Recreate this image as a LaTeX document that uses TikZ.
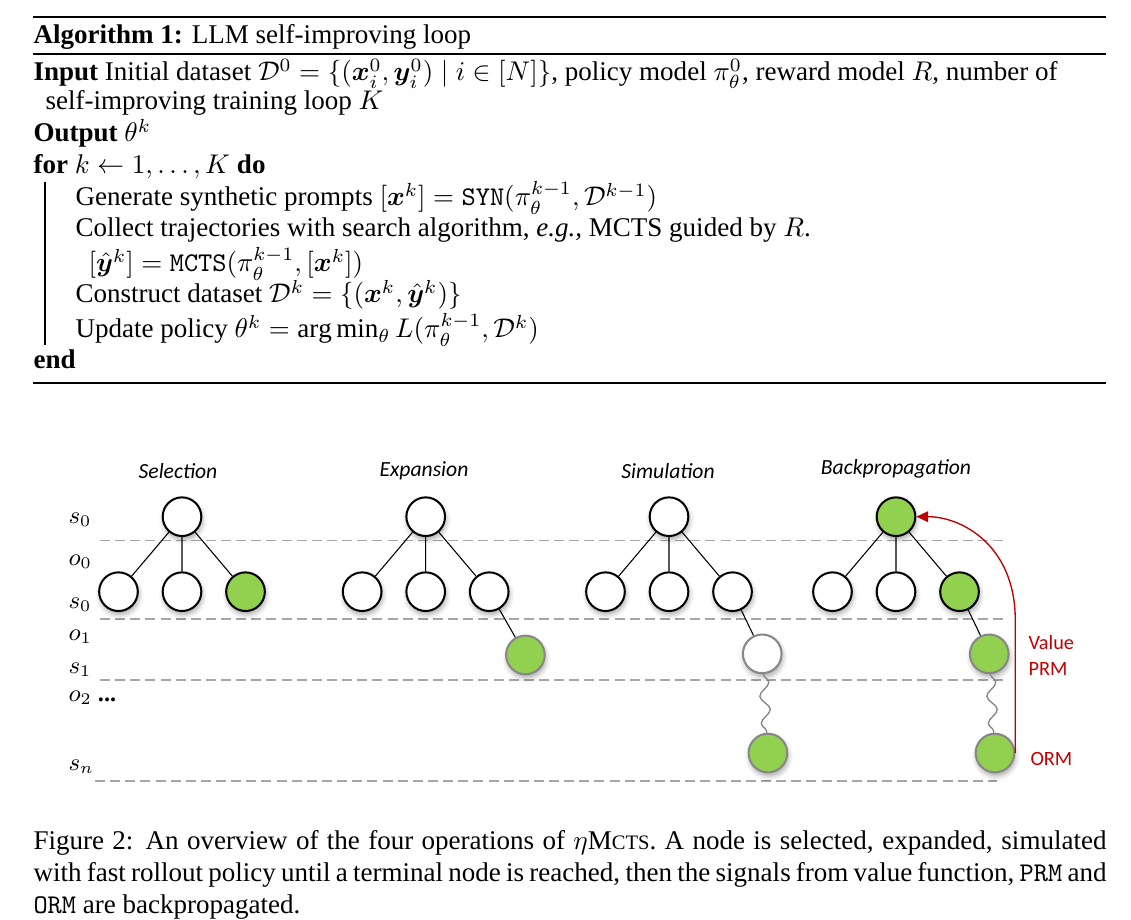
\documentclass[tikz,border=0pt]{standalone}
\usepackage{amsmath,amsfonts,bm}
\usepackage{fontspec}
\setmainfont{Liberation Serif}
\newfontfamily\figfont{Carlito}
\usepackage{tikz}
\usetikzlibrary{positioning,shadows.blur,decorations.pathmorphing,arrows.meta}
\definecolor{leafgreen}{HTML}{92D050}
\definecolor{rimgrey}{HTML}{878787}
\definecolor{guidegrey}{HTML}{A6A6A6}
\definecolor{signalred}{HTML}{C00000}

\begin{document}
\begin{tikzpicture}[x=0.37pt,y=-0.37pt,on grid]
        \tikzstyle{openstate} = [circle, draw=black, line width=0.75pt, fill=white, minimum size=14.3pt, inner sep=0pt, blur shadow={shadow xshift=0.4pt, shadow yshift=-1.3pt, shadow blur radius=1.8pt, shadow opacity=35}]
        \tikzstyle{greenstate} = [openstate, fill=leafgreen]
        \tikzstyle{newstate} = [openstate, draw=rimgrey]
        \tikzstyle{newgreen} = [newstate, fill=leafgreen]
        \tikzstyle{treeedge} = [line width=0.4pt]
        \tikzstyle{rollout} = [rimgrey, line width=0.5pt, decorate, decoration={snake, amplitude=1.8pt, segment length=10pt}]
        \tikzstyle{guide} = [guidegrey, line width=0.45pt, dash pattern=on 3.7pt off 1.9pt]
        \tikzstyle{backarrow} = [signalred, line width=0.5pt, -{Triangle[length=4.4pt,width=4pt]}]
        \tikzstyle{phasetitle} = [inner sep=0pt, font=\figfont\itshape\fontsize{8}{9.6}\selectfont]
        \tikzstyle{depthlbl} = [anchor=west, inner sep=0pt, font=\fontsize{9}{10}\selectfont]
        \tikzstyle{signallbl} = [signalred, anchor=west, align=left, inner sep=0pt, font=\figfont\fontsize{7.5}{9.3}\selectfont]
        \tikzstyle{algline} = [anchor=base west, inner sep=0pt]
        \tikzstyle{algrule} = [line width=0.75pt]

        \useasboundingbox (0,0) rectangle (1131,920);

        % algorithm box
        \draw [algrule] (33,17) -- (1106,17);
        \draw [algrule] (33,54) -- (1106,54);
        \draw [algrule] (33,383) -- (1106,383);
        \node (algtitle) [algline] at (33,44) {\textbf{Algorithm 1:} LLM self-improving loop};
        \node (alginput) [algline] at (33,81) {\textbf{Input} Initial dataset $\mathcal{D}^0=\{(\bm{x}_i^0,\bm{y}_i^0)\mid i\in[N]\}$, policy model $\pi_\theta^0$, reward model $R$, number of};
        \node (alginput2) [algline] at (45,110) {self-improving training loop $K$};
        \node (algoutput) [algline] at (33,142) {\textbf{Output} $\theta^k$};
        \node (algfor) [algline] at (33,174) {\textbf{for} $k\leftarrow 1,\dots,K$ \textbf{do}};
        \node (alggen) [algline] at (75,206) {Generate synthetic prompts $[\bm{x}^k]=\texttt{SYN}(\pi_\theta^{k-1},\mathcal{D}^{k-1})$};
        \node (algcollect) [algline] at (75,237) {Collect trajectories with search algorithm, \textit{e.g.,} MCTS guided by $R$.};
        \node (algmcts) [algline] at (88,272) {$[\hat{\bm{y}}^k]=\texttt{MCTS}(\pi_\theta^{k-1},[\bm{x}^k])$};
        \node (algdata) [algline] at (75,303) {Construct dataset $\mathcal{D}^k=\{(\bm{x}^k,\hat{\bm{y}}^k)\}$};
        \node (algupdate) [algline] at (75,338) {Update policy $\theta^k=\arg\min_\theta L(\pi_\theta^{k-1},\mathcal{D}^k)$};
        \node (algend) [algline] at (33,369) {\textbf{end}};
        \draw [line width=0.4pt] (45,182) -- (45,345);

        % depth guides
        \draw [guide] (100,540.5) -- (1003,540.5);
        \draw [guide] (100,619) -- (1003,619);
        \draw [guide] (100,680) -- (1003,680);
        \draw [guide] (95,781) -- (997,781);
        \node (lbls0) [depthlbl] at (68,520) {$s_0$};
        \node (lblo0) [depthlbl] at (68,562) {$o_0$};
        \node (lbls0b) [depthlbl] at (68,605) {$s_0$};
        \node (lblo1) [depthlbl] at (68,637) {$o_1$};
        \node (lbls1) [depthlbl] at (68,670) {$s_1$};
        \node (lblo2) [depthlbl] at (68,698) {$o_2$ \textbf{...}};
        \node (lblsn) [depthlbl] at (68,767) {$s_n$};

        % phase titles
        \node (selttl) [phasetitle] at (178,471) {Selection};
        \node (expttl) [phasetitle] at (424,471) {Expansion};
        \node (simttl) [phasetitle] at (668,471) {Simulation};
        \node (bpttl) [phasetitle] at (896,469) {Backpropagation};

        % selection
        \node (sel0) [openstate] at (182,516.7) {};
        \node (sel1) [openstate, below left=27.75pt and 23.5pt of sel0] {};
        \node (sel2) [openstate, below=27.75pt of sel0] {};
        \node (sel3) [greenstate, below right=27.75pt and 23.5pt of sel0] {};
        \draw [treeedge] (sel0) -- (sel1) (sel0) -- (sel2) (sel0) -- (sel3);

        % expansion
        \node (exp0) [openstate] at (425.7,516.7) {};
        \node (exp1) [openstate, below left=27.75pt and 23.5pt of exp0] {};
        \node (exp2) [openstate, below=27.75pt of exp0] {};
        \node (exp3) [openstate, below right=27.75pt and 23.5pt of exp0] {};
        \node (exp4) [newgreen, below right=23.4pt and 13.4pt of exp3] {};
        \draw [treeedge] (exp0) -- (exp1) (exp0) -- (exp2) (exp0) -- (exp3) (exp3) -- (exp4);

        % simulation
        \node (sim0) [openstate] at (669,516.7) {};
        \node (sim1) [openstate, below left=27.75pt and 23.5pt of sim0] {};
        \node (sim2) [openstate, below=27.75pt of sim0] {};
        \node (sim3) [openstate, below right=27.75pt and 23.5pt of sim0] {};
        \node (sim4) [newstate, below right=23pt and 11pt of sim3] {};
        \node (sim5) [newgreen, below right=36.7pt and 2.1pt of sim4] {};
        \draw [treeedge] (sim0) -- (sim1) (sim0) -- (sim2) (sim0) -- (sim3) (sim3) -- (sim4);
        \draw [rollout] (sim4) -- (sim5);

        % backpropagation
        \node (bp0) [greenstate] at (896,516.7) {};
        \node (bp1) [openstate, below left=27.75pt and 23.5pt of bp0] {};
        \node (bp2) [openstate, below=27.75pt of bp0] {};
        \node (bp3) [greenstate, below right=27.75pt and 23.5pt of bp0] {};
        \node (bp4) [newgreen, below right=23pt and 11pt of bp3] {};
        \node (bp5) [newgreen, below right=36.7pt and 2.1pt of bp4] {};
        \draw [treeedge] (bp0) -- (bp1) (bp0) -- (bp2) (bp0) -- (bp3) (bp3) -- (bp4);
        \draw [rollout] (bp4) -- (bp5);
        \draw [backarrow] (bp5.east) -- ++(0,-133) .. controls +(0,-75) and +(45,0) .. (bp0.east);
        \node (valuelbl) [signallbl] at (1028,655.5) {Value\\PRM};
        \node (ormlbl) [signallbl] at (1030,759) {ORM};

        % caption
        \node (caption) [algline, text width=397pt, align=justify] at (33,849) {Figure 2: An overview of the four operations of $\eta$M{\fontsize{7.6}{9}\selectfont CTS}. A node is selected, expanded, simulated\linebreak with fast rollout policy until a terminal node is reached, then the signals from value function, \texttt{PRM} and\linebreak \texttt{ORM} are backpropagated.};
    \end{tikzpicture}
\end{document}
